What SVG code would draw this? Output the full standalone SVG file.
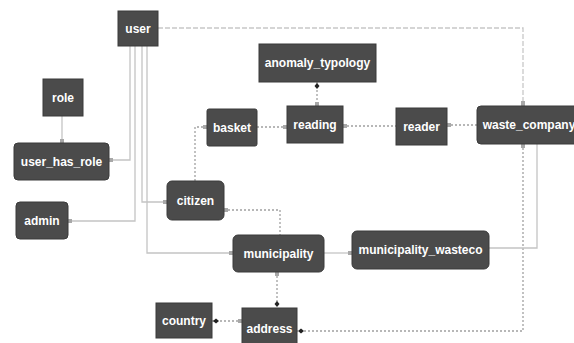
<svg xmlns="http://www.w3.org/2000/svg" width="574" height="343" viewBox="0 0 574 343">
<style>
.n{fill:#4b4b4b;stroke:#3a3a3a;stroke-width:1}
.t{fill:#ffffff;font-family:"Liberation Sans",Arial,sans-serif;font-weight:bold;font-size:12px;text-anchor:middle}
.s{fill:none;stroke:#c4c4c4;stroke-width:1.3}
.d{fill:none;stroke:#a0a0a0;stroke-width:1.3;stroke-dasharray:2 2}
.h{fill:none;stroke:#c8c8c8;stroke-width:1.3;stroke-dasharray:5 2}
.e{fill:#a8a8a8}
.k{fill:#222222}
</style>
<rect width="574" height="343" fill="#ffffff"/>
<g id="connectors">
<path class="h" d="M158,28 H523 V106"/>
<path class="s" d="M130,46 V160 H109"/>
<path class="s" d="M135,46 V221 H68"/>
<path class="s" d="M142,46 V202 H167"/>
<path class="s" d="M147,46 V253 H233"/>
<path class="s" d="M62,116 V143"/>
<path class="d" d="M317,82 V106"/>
<path class="d" d="M257,127 H287"/>
<path class="d" d="M195,181 V127 H207"/>
<path class="d" d="M343,126 H396"/>
<path class="d" d="M447,125 H477"/>
<path class="d" d="M523,144 V331 H297"/>
<path class="s" d="M537,144 V248 H489"/>
<path class="s" d="M324,253 H352"/>
<path class="d" d="M224,210 H280 V235"/>
<path class="d" d="M277,272 V308"/>
<path class="d" d="M212,321 H242"/>
<rect class="e" x="521" y="101" width="4" height="5"/>
<rect class="e" x="109" y="158" width="4" height="4"/>
<rect class="e" x="68" y="219" width="4" height="4"/>
<rect class="e" x="163" y="200" width="4" height="4"/>
<rect class="e" x="229" y="251" width="4" height="4"/>
<rect class="e" x="60" y="139" width="4" height="4"/>
<rect class="e" x="315" y="102" width="4" height="4"/>
<rect class="e" x="283" y="125" width="4" height="4"/>
<rect class="e" x="203" y="125" width="4" height="4"/>
<rect class="e" x="343" y="124" width="4" height="4"/>
<rect class="e" x="447" y="123" width="4" height="4"/>
<rect class="e" x="521" y="144" width="4" height="4"/>
<rect class="e" x="224" y="208" width="4" height="4"/>
<rect class="e" x="275" y="272" width="4" height="4"/>
<rect class="e" x="348" y="251" width="4" height="4"/>
<rect class="e" x="238" y="319" width="4" height="4"/>
<path class="k" d="M317,83 l2.5,3 l-2.5,3 l-2.5,-3 z"/>
<path class="k" d="M277,301 l2.5,3 l-2.5,3 l-2.5,-3 z"/>
<path class="k" d="M213,321 l3,-2.5 l3,2.5 l-3,2.5 z"/>
<path class="k" d="M298,331 l3,-2.5 l3,2.5 l-3,2.5 z"/>
</g>
<g id="user"><rect class="n" x="118" y="11" width="40" height="35"/><text class="t" x="138" y="33">user</text></g>
<g id="role"><rect class="n" x="43" y="79" width="40" height="37"/><text class="t" x="63" y="102">role</text></g>
<g id="user_has_role"><rect class="n" x="14" y="143" width="95" height="37" rx="4"/><text class="t" x="61.5" y="166">user_has_role</text></g>
<g id="admin"><rect class="n" x="16" y="202" width="52" height="37" rx="4"/><text class="t" x="42" y="225">admin</text></g>
<g id="basket"><rect class="n" x="207" y="109" width="50" height="37" rx="2"/><text class="t" x="232" y="132">basket</text></g>
<g id="anomaly_typology"><rect class="n" x="259" y="44" width="117" height="38"/><text class="t" x="317.5" y="67">anomaly_typology</text></g>
<g id="reading"><rect class="n" x="287" y="106" width="56" height="37"/><text class="t" x="315" y="129">reading</text></g>
<g id="reader"><rect class="n" x="396" y="108" width="51" height="37"/><text class="t" x="421.5" y="131">reader</text></g>
<g id="waste_company"><rect class="n" x="477" y="106" width="102" height="38" rx="4"/><text class="t" x="529" y="129">waste_company</text></g>
<g id="citizen"><rect class="n" x="167" y="181" width="57" height="39" rx="5"/><text class="t" x="195.5" y="205">citizen</text></g>
<g id="municipality"><rect class="n" x="233" y="235" width="91" height="37" rx="5"/><text class="t" x="278.5" y="258">municipality</text></g>
<g id="municipality_wasteco"><rect class="n" x="352" y="231" width="137" height="38" rx="5"/><text class="t" x="420.5" y="254">municipality_wasteco</text></g>
<g id="country"><rect class="n" x="156" y="303" width="56" height="35"/><text class="t" x="184" y="325">country</text></g>
<g id="address"><rect class="n" x="242" y="308" width="55" height="40"/><text class="t" x="269.5" y="333">address</text></g>
</svg>
